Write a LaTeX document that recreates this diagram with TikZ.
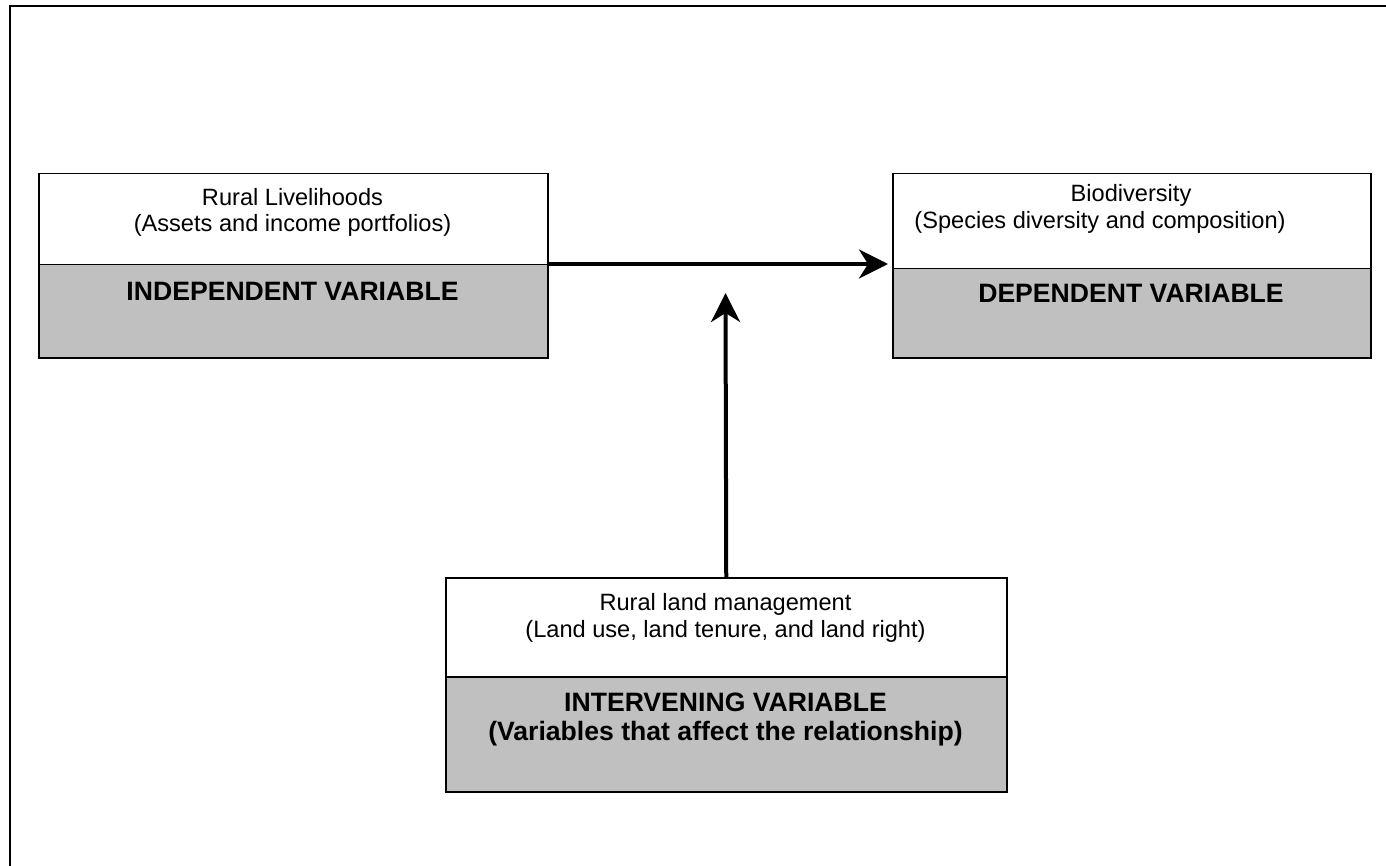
\documentclass[tikz,border=0pt]{standalone}
\usepackage{fontspec}
\setmainfont{Liberation Sans}
\usetikzlibrary{arrows.meta}
\definecolor{varfill}{HTML}{C0C0C0}
\begin{document}
\begin{tikzpicture}[x=0.5pt,y=-0.5pt,
  halfbox/.style={draw=black, line width=0.75pt, rectangle, inner sep=0pt, anchor=north west},
  upperbox/.style={halfbox, fill=white},
  lowerbox/.style={halfbox, fill=varfill},
  plain/.style={font=\fontsize{11.8}{14}\selectfont, anchor=base, inner sep=0pt},
  heavy/.style={font=\fontsize{13.3}{15}\selectfont\bfseries, anchor=base, inner sep=0pt},
  flow/.style={line width=2pt, -{Stealth[length=14.5pt, width=14.5pt, inset=4.5pt]}}
]
\useasboundingbox (0,0) rectangle (1386,866);
% outer frame, running off the right and bottom edges
\draw[line width=1pt] (10,900) -- (10,6) -- (1420,6);

% independent variable
\node[upperbox, minimum width=254.5pt, minimum height=45.5pt] (indUp) at (38,173) {};
\node[lowerbox, minimum width=254.5pt, minimum height=46.5pt] (indLow) at (38,264) {};
\node[plain] (indT1) at (292.5,206) {Rural Livelihoods};
\node[plain] (indT2) at (292.5,232) {(Assets and income portfolios)};
\node[heavy] (indT3) at (292.5,300) {INDEPENDENT VARIABLE};

% dependent variable
\node[upperbox, minimum width=239pt, minimum height=47.5pt] (depUp) at (892,173) {};
\node[lowerbox, minimum width=239pt, minimum height=44.5pt] (depLow) at (892,268) {};
\node[plain] (depT1) at (1131,202) {Biodiversity};
\node[plain] (depT2) at (1100,228) {(Species diversity and composition)};
\node[heavy] (depT3) at (1131,302) {DEPENDENT VARIABLE};

% intervening variable
\node[upperbox, minimum width=280.5pt, minimum height=49.5pt] (intUp) at (445,577) {};
\node[lowerbox, minimum width=280.5pt, minimum height=57.5pt] (intLow) at (445,676) {};
\node[plain] (intT1) at (725.5,610) {Rural land management};
\node[plain] (intT2) at (725.5,637) {(Land use, land tenure, and land right)};
\node[heavy] (intT3) at (725.5,711) {INTERVENING VARIABLE};
\node[heavy] (intT4) at (725.5,740) {(Variables that affect the relationship)};

% connectors
\coordinate (meet) at (725.5,293);
\draw[flow, shorten >=2pt] (indLow.north east) -- (depUp.west |- indLow.north east);
\draw[flow] (intUp.north) -- (meet);
\end{tikzpicture}
\end{document}
